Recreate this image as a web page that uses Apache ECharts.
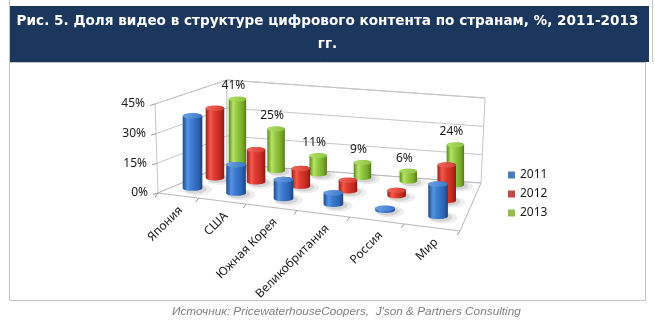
<!DOCTYPE html>
<html><head><meta charset="utf-8">
<script src="https://cdn.jsdelivr.net/npm/echarts@6/dist/echarts.min.js"></script>
<style>html,body{margin:0;padding:0;background:#fff}#c{width:655px;height:327px}</style>
</head><body><div id="c"></div>
<script>
// ---- data ----
const categories = ['Япония', 'США', 'Южная Корея', 'Великобритания', 'Россия', 'Мир'];
const seriesNames = ['2011', '2012', '2013'];
const values2011 = [38, 15, 10, 6, 1, 17];
const values2012 = [39, 18, 10, 6, 3, 20];
const values2013 = [41, 25, 11, 9, 6, 24];
const yTicks = [0, 15, 30, 45];
const yTickLabels = ['0%', '15%', '30%', '45%'];
const titleText = 'Рис. 5. Доля видео в структуре цифрового контента по странам, %, 2011-2013\nгг.';
const sourceText = 'Источник: PricewaterhouseCoopers,  J\'son & Partners Consulting';

// ---- 3D frame layout (floor corners at 0 and at the top of the value axis) ----
const F0 = {FL: [158, 193], FR: [460, 231], BR: [481, 183], BL: [227, 164]};
const F1 = {FL: [155, 104], FR: [458, 139], BR: [485, 98], BL: [227, 80]};
const ROW_T = [0.24, 0.58, 0.92];
function bil(c, s, t) {
  const a = (1 - s) * (1 - t), b = s * (1 - t), d = s * t, e = (1 - s) * t;
  return [c.FL[0] * a + c.FR[0] * b + c.BR[0] * d + c.BL[0] * e,
          c.FL[1] * a + c.FR[1] * b + c.BR[1] * d + c.BL[1] * e];
}
function P(s, t, w) {
  const a = bil(F0, s, t), b = bil(F1, s, t);
  return [a[0] + (b[0] - a[0]) * w, a[1] + (b[1] - a[1]) * w];
}
function warp(u) { return Math.pow(Math.max(0, u), 1.12); }
function ell(cx, cy, rx, ry, a0, a1, n) {
  const pts = [];
  for (let k = 0; k <= n; k++) {
    const a = a0 + (a1 - a0) * k / n;
    pts.push([cx + rx * Math.cos(a), cy + ry * Math.sin(a)]);
  }
  return pts;
}
const FONT = '"Noto Sans", "DejaVu Sans", sans-serif';
const GRID = '#c6c6c6';

const palettes = [
  {legend: '#4a7ebb', body: ['#1b4b90', '#5594e2', '#3c7cd0', '#2a63b2', '#18427f'], top: ['#3a76c6', '#6ea3e6']},
  {legend: '#be4b48', body: ['#9c1c16', '#f45a4e', '#df3b2f', '#c0291f', '#8e1812'], top: ['#d63a2f', '#f06a5f']},
  {legend: '#98b954', body: ['#5a8818', '#b6e46a', '#97cb45', '#78aa2a', '#527a15'], top: ['#8cc23c', '#b2e06a']}
];

function gradH(c) {
  return {type: 'linear', x: 0, y: 0, x2: 1, y2: 0, colorStops: [
    {offset: 0, color: c[0]}, {offset: 0.25, color: c[1]}, {offset: 0.45, color: c[2]},
    {offset: 0.8, color: c[3]}, {offset: 1, color: c[4]}]};
}

function cylinderRenderer(row, withLabel) {
  const t = ROW_T[row], pal = palettes[row];
  return function (params, api) {
    const cs = params.coordSys;
    const i = api.value(0), v = api.value(1);
    const p = api.coord([i, v]), p0 = api.coord([i, 0]);
    const u = (p0[0] - cs.x) / cs.width;
    const frac = (p0[1] - p[1]) / cs.height;
    const b = P(warp(u), t, 0);
    const r = 10.2 - 1.6 * t, ry = r * 0.28;
    const h = (89 - 15 * t) * frac;
    const cx = b[0], cyB = b[1], cyT = b[1] - h;
    const body = ell(cx, cyB, r, ry, Math.PI, 0, 16).concat(ell(cx, cyT, r, ry, 0, -Math.PI, 16));
    const children = [
      {type: 'polygon', shape: {points: ell(cx + 5, cyB + 1.5, r * 1.45, ry * 2.1, 0, Math.PI * 2, 30)},
       style: {fill: 'rgba(0,0,0,0.07)'}},
      {type: 'polygon', shape: {points: ell(cx + 3, cyB + 1, r * 1.15, ry * 1.6, 0, Math.PI * 2, 30)},
       style: {fill: 'rgba(0,0,0,0.10)'}},
      {type: 'polygon', shape: {points: body}, style: {fill: gradH(pal.body)}},
      {type: 'polygon', shape: {points: ell(cx, cyT, r, ry, 0, Math.PI * 2, 30)},
       style: {fill: {type: 'linear', x: 0, y: 0, x2: 1, y2: 1, colorStops: [
         {offset: 0, color: pal.top[1]}, {offset: 1, color: pal.top[0]}]}}}
    ];
    if (withLabel) {
      children.push({type: 'text', x: cx - 4, y: cyT - 13,
        style: {text: v + '%', fill: '#1a1a1a', font: '12px ' + FONT, align: 'center', verticalAlign: 'middle'}});
    }
    return {type: 'group', children: children};
  };
}

function frameRenderer(params, api) {
  const cs = params.coordSys;
  const v = api.value(1);
  const p = api.coord([0, v]), p0 = api.coord([0, 0]);
  const w = (p0[1] - p[1]) / cs.height;
  const children = [];
  if (params.dataIndex === 0) {
    const st = {fill: '#fff', stroke: GRID, lineWidth: 1};
    children.push({type: 'polygon', shape: {points: [P(0, 0, 0), P(0, 1, 0), P(0, 1, 1), P(0, 0, 1)]}, style: st});
    children.push({type: 'polygon', shape: {points: [P(0, 1, 0), P(1, 1, 0), P(1, 1, 1), P(0, 1, 1)]}, style: st});
    children.push({type: 'polygon', shape: {points: [P(0, 0, 0), P(1, 0, 0), P(1, 1, 0), P(0, 1, 0)]},
      style: {fill: '#fff', stroke: '#b8b8b8', lineWidth: 1}});
  } else {
    children.push({type: 'polyline', shape: {points: [P(0, 0, w), P(0, 1, w), P(1, 1, w)]},
      style: {stroke: GRID, lineWidth: 1, fill: null}});
  }
  const a = P(0, 0, w);
  children.push({type: 'line', shape: {x1: a[0], y1: a[1], x2: a[0] - 5, y2: a[1] + 1.5},
    style: {stroke: '#9a9a9a', lineWidth: 1}});
  children.push({type: 'text', x: a[0] - 10, y: a[1],
    style: {text: yTickLabels[params.dataIndex], fill: '#1a1a1a', font: '12px ' + FONT,
            align: 'right', verticalAlign: 'middle'}});
  return {type: 'group', children: children};
}

function categoryRenderer(params, api) {
  const cs = params.coordSys;
  const i = api.value(0);
  const p = api.coord([i, 0]);
  const bw = api.size([1, 0])[0] / cs.width;
  const u = (p[0] - cs.x) / cs.width;
  const children = [];
  const bounds = i === 0 ? [u - bw / 2, u + bw / 2] : [u + bw / 2];
  bounds.forEach(function (ub) {
    const q = P(warp(ub), 0, 0);
    children.push({type: 'line', shape: {x1: q[0], y1: q[1], x2: q[0] - 3, y2: q[1] + 4},
      style: {stroke: '#9a9a9a', lineWidth: 1}});
  });
  const c = P(warp(u), 0, 0);
  children.push({type: 'text', x: c[0] + 4, y: c[1] + 13, rotation: Math.PI / 4,
    style: {text: categories[i], fill: '#1a1a1a', font: '12px ' + FONT, align: 'right', verticalAlign: 'middle'}});
  return {type: 'group', children: children};
}

const chart = echarts.init(document.getElementById('c'), null, {renderer: 'canvas'});
const valueSets = [values2011, values2012, values2013];
const barSeries = valueSets.map(function (vals, row) {
  return {
    name: seriesNames[row], type: 'custom', coordinateSystem: 'cartesian2d',
    data: vals.map(function (v, i) { return [i, v]; }),
    encode: {x: 0, y: 1},
    itemStyle: {color: palettes[row].legend},
    renderItem: cylinderRenderer(row, row === 2),
    z: 4 - row, silent: true
  };
});

chart.setOption({
  animation: false,
  backgroundColor: '#fff',
  title: [
    {text: titleText, left: 'center', top: 10, padding: 0,
     textStyle: {color: '#fff', fontSize: 13.6, fontWeight: 'bold', fontFamily: '"DejaVu Sans", sans-serif', lineHeight: 23}},
    {text: sourceText, left: 172, top: 306, padding: 0,
     textStyle: {color: '#7f7f7f', fontSize: 11.8, fontStyle: 'italic', fontWeight: 'normal', fontFamily: '"Liberation Sans", sans-serif'}}
  ],
  legend: {
    data: seriesNames, orient: 'vertical', left: 503, top: 164, icon: 'rect',
    itemWidth: 7, itemHeight: 7, itemGap: 7,
    textStyle: {color: '#1a1a1a', fontSize: 12, fontFamily: FONT}
  },
  graphic: [
    {type: 'rect', shape: {x: 9.5, y: 62.5, width: 636, height: 238}, style: {fill: '#fff', stroke: '#c4c4c4', lineWidth: 1}, z: -10},
    {type: 'rect', shape: {x: 9, y: 6, width: 640, height: 56}, style: {fill: '#1c375e'}, z: -5},
    {type: 'line', shape: {x1: 9.5, y1: 0, x2: 9.5, y2: 62}, style: {stroke: '#c4c4c4', lineWidth: 1}, z: -5},
    {type: 'line', shape: {x1: 652.5, y1: 0, x2: 652.5, y2: 62}, style: {stroke: '#c4c4c4', lineWidth: 1}, z: -5}
  ],
  grid: {left: 0, right: 0, top: 0, bottom: 0, show: false},
  xAxis: {type: 'category', data: categories, show: false},
  yAxis: {type: 'value', min: 0, max: 45, interval: 15, show: false},
  series: [
    {name: 'frame', type: 'custom', coordinateSystem: 'cartesian2d',
     data: yTicks.map(function (v) { return [0, v]; }), encode: {x: 0, y: 1},
     renderItem: frameRenderer, z: 1, silent: true},
    {name: 'categories', type: 'custom', coordinateSystem: 'cartesian2d',
     data: categories.map(function (c, i) { return [i, 0]; }), encode: {x: 0, y: 1},
     renderItem: categoryRenderer, z: 5, silent: true}
  ].concat(barSeries)
});
</script></body></html>
